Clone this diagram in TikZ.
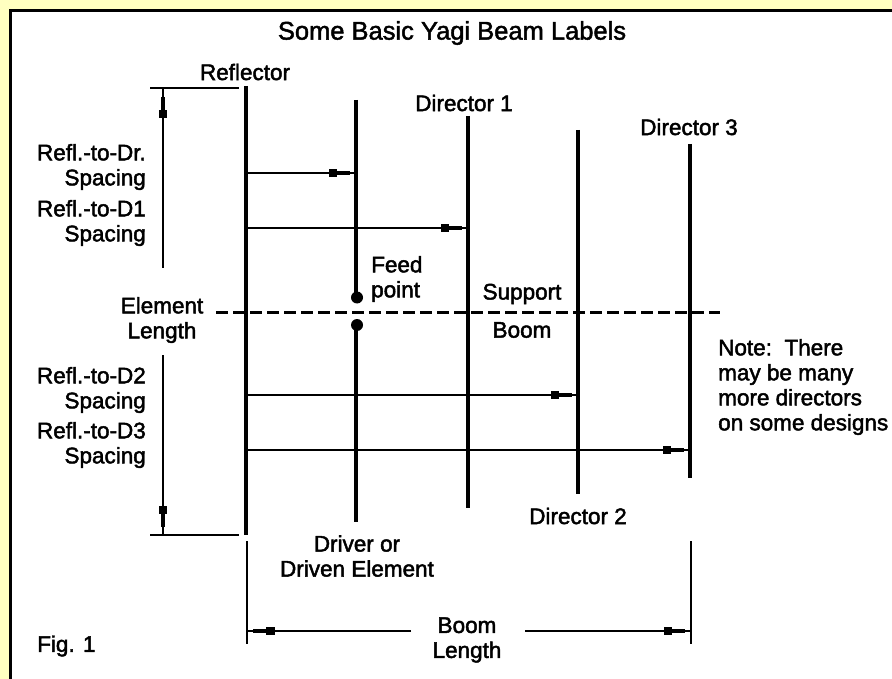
\documentclass[tikz,border=0pt]{standalone}
\usepackage{fontspec}
\setmainfont{Liberation Sans}
\usetikzlibrary{arrows.meta}
\definecolor{pagebg}{HTML}{FFFFC0}
\newcommand{\heavytext}{\special{pdf:code 2 Tr 0.45 w}}
\tikzset{
	label/.style={font=\fontsize{22.5}{25}\selectfont,inner sep=0pt,align=center},
	element/.style={line width=3.5pt},
	boomline/.style={line width=3pt,dash pattern=on 11.5pt off 5.5pt},
	thin line/.style={line width=1.5pt},
	spacing/.style={thin line,-{Rectangle[length=8.5pt,width=8.5pt,line width=0pt,sep=0pt]Rectangle[length=13pt,width=4pt,line width=0pt,sep=0pt]Rectangle[length=#1,width=1.5pt,line width=0pt,sep=0pt]}},
	spacing/.default=6pt,
	feed/.style={circle,fill=black,inner sep=0pt,minimum size=12pt}
}
\begin{document}
\begin{tikzpicture}[x=1pt,y=-1pt]
	\useasboundingbox (0,0) rectangle (892,679);
	\fill[pagebg] (0,0) rectangle (892,679);
	\fill[black] (9,9) rectangle (892,679);
	\fill[white] (12,12) rectangle (892,679);
	% elements
	\foreach \x/\t/\b/\n in {246/86/535/refl,356/100/522/driv,468/116/508/dia,578/130/494/dib,690/144/478/dic}\path (\x,\t) coordinate(\n t) (\x,\b) coordinate(\n b);
	\foreach \n in {refl,dia,dib,dic}\draw[element] (\n t)--(\n b);
	\path (357,297.5) node[feed](fa){} (357,325) node[feed](fb){};
	\draw[element] (drivt)--(drivt|-fa) (drivb|-fb)--(drivb);
	\path (216,312) coordinate(ba) (720,312) coordinate(bb);
	\draw[boomline] (ba)--(bb);
	% spacing arrows
	\foreach \y/\n/\e in {173/a/driv,228/b/dia,395/c/dib,450/d/dic}{
		\path (246,\y) coordinate(s\n) (\e t|-s\n) coordinate(e\n);
		\draw[spacing] (s\n)--(e\n);
	}
	% element length
	\path (150,88) coordinate(la) (239,88) coordinate(lb) (150,535) coordinate(lc) (239,535) coordinate(ld);
	\path (163,88) coordinate(le) (163,268) coordinate(lf) (163,355) coordinate(lg) (163,535) coordinate(lh);
	\draw[thin line] (la)--(lb) (lc)--(ld);
	\draw[spacing=9pt] (lf)--(le);
	\draw[spacing=8pt] (lg)--(lh);
	% boom length
	\path (247,541) coordinate(ma) (247,644) coordinate(mb) (691,541) coordinate(mc) (691,644) coordinate(md);
	\path (247,631) coordinate(me) (411,631) coordinate(mf) (525,631) coordinate(mg) (691,631) coordinate(mh);
	\draw[thin line] (ma)--(mb) (mc)--(md);
	\draw[spacing] (mf)--(me);
	\draw[spacing] (mg)--(mh);
	% labels
	\heavytext
	\foreach \x/\y/\gt/\n in {245/72/Reflector/lrefl,464/103/Director 1/lda,578/516/Director 2/ldb,689/127/Director 3/ldc,162/320/Element\\Length/lel,522/294/Support/lsu,522/330/Boom/lbo,357/556/Driver or\\Driven Element/ldr,467/640/Boom\\Length/lbl}\path (\x,\y) node[label](\n){\gt};
	\path (452,33) node[label,font=\fontsize{25.5}{30}\selectfont](title){Some Basic Yagi Beam Labels};
	\foreach \y/\gt/\n in {167/Dr./lra,223/D1/lrb,390/D2/lrc,445/D3/lrd}\path (146,\y) node[label,anchor=east,align=right](\n){Refl.-to-\gt\\Spacing};
	\path (371,279) node[label,anchor=west,align=left](lfe){Feed\\point};
	\path (718,387) node[label,anchor=west,align=left](lno){Note:\ \ There\\may be many\\more directors\\on some designs};
	\path (37,646) node[label,anchor=west](lfi){Fig. 1};
\end{tikzpicture}
\end{document}
